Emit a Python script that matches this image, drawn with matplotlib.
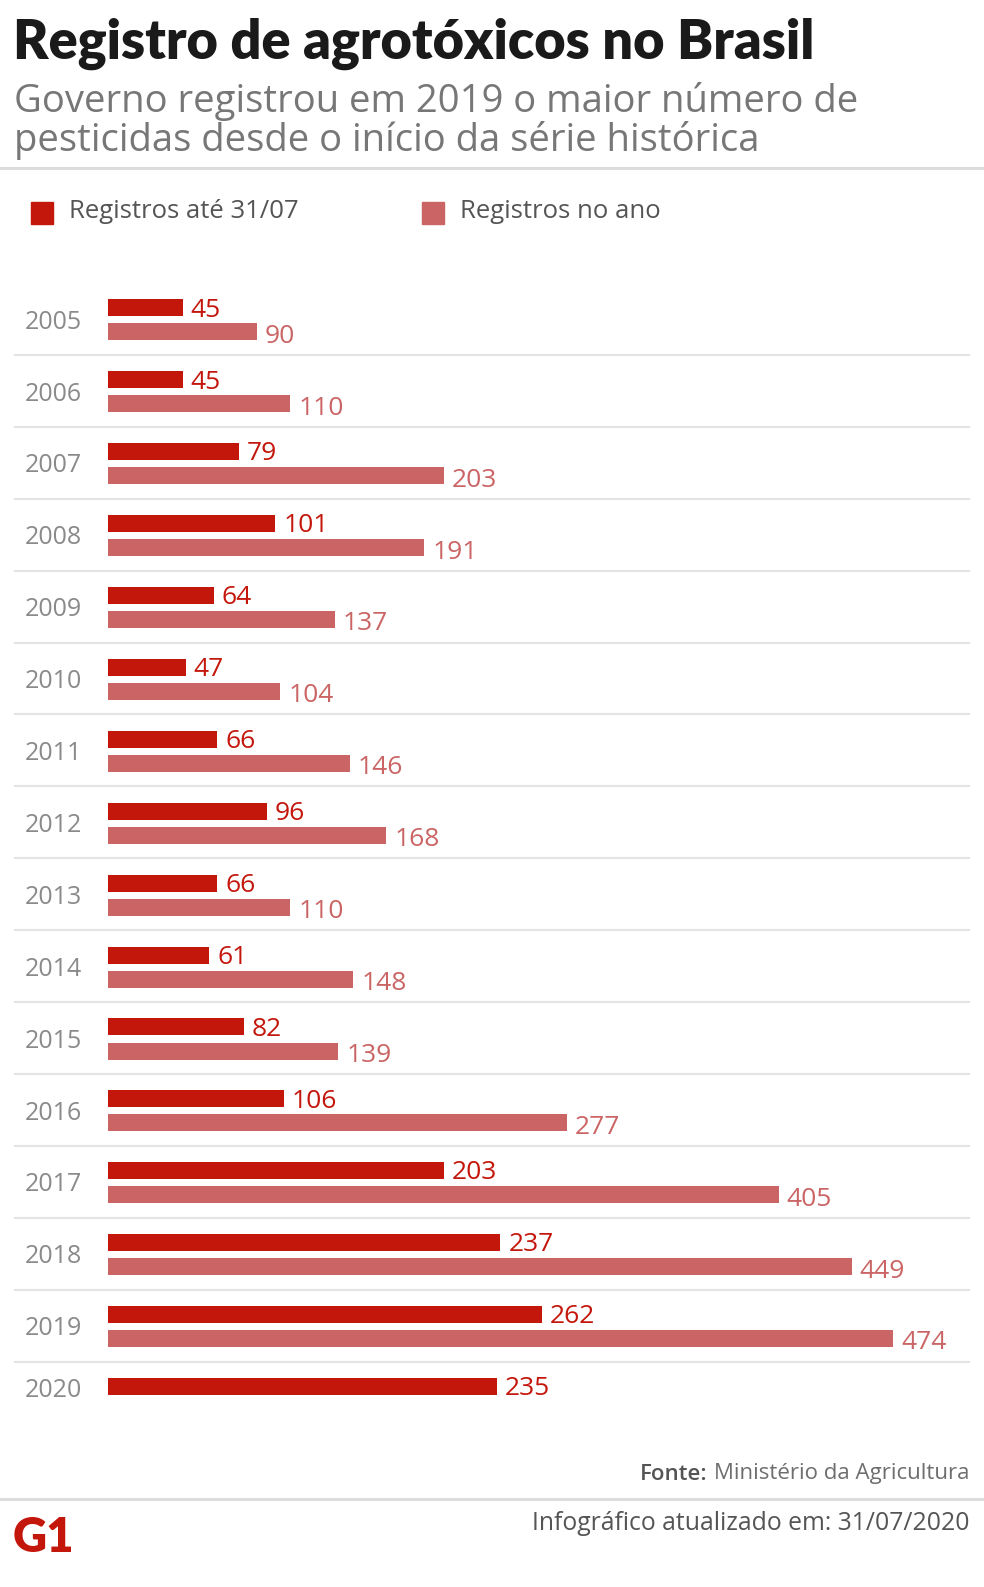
"""Registro de agrotóxicos no Brasil - G1 style horizontal bar chart."""

import matplotlib

matplotlib.use("Agg")
import matplotlib.pyplot as plt
import matplotlib.transforms as mtransforms

# --- data -------------------------------------------------------------
years = ["2005", "2006", "2007", "2008", "2009", "2010", "2011", "2012",
         "2013", "2014", "2015", "2016", "2017", "2018", "2019", "2020"]
ate_31_07 = [45, 45, 79, 101, 64, 47, 66, 96, 66, 61, 82, 106, 203, 237, 262, 235]
no_ano = [90, 110, 203, 191, 137, 104, 146, 168, 110, 148, 139, 277, 405, 449, 474, None]

legend_labels = ["Registros até 31/07", "Registros no ano"]
title = "Registro de agrotóxicos no Brasil"
subtitle = "Governo registrou em 2019 o maior número de\npesticidas desde o início da série histórica"
source_bold = "Fonte:"
source_text = "Ministério da Agricultura"
updated = "Infográfico atualizado em: 31/07/2020"

# --- style ------------------------------------------------------------
DARK = "#c4170c"
LIGHT = "#cb6565"
YEAR_GRAY = "#8a8a8a"
SEP = "#e4e4e4"
FONT = ["Open Sans", "DejaVu Sans"]

W, H = 984, 1587
fig = plt.figure(figsize=(W / 100, H / 100), dpi=100)
fig.patch.set_facecolor("white")


def fx(px):
    return px / W


def fy(py):
    return 1 - py / H


# header
fig.text(fx(13), fy(44), title, fontsize=39, fontweight="heavy", family=["Lato", "DejaVu Sans"],
         color="#1a1a1a", va="center", ha="left")
fig.text(fx(14), fy(121), subtitle, fontsize=27.5, family=FONT, color="#777777",
         va="center", ha="left", linespacing=1.0)
fig.add_artist(plt.Line2D([0, 1], [fy(168), fy(168)], color="#dddddd", lw=2.2))

# legend
for x0, lab, col in [(31, legend_labels[0], DARK), (422, legend_labels[1], LIGHT)]:
    fig.add_artist(plt.Rectangle((fx(x0), fy(224)), fx(22), 22 / H, color=col,
                                 transform=fig.transFigure))
    fig.text(fx(x0 + 38), fy(212), lab, fontsize=18.5, family=FONT, color="#555555",
             va="center", ha="left")

# chart axes: x in values, y in row units
scale = 1.656        # px per unit
pitch = 71.9         # px per row
row0 = 308           # px of first dark bar centre
x_left, x_right = 108, 960
y_top_d, y_bot_d = -0.6, 15.6
top_px = row0 + y_top_d * pitch
bot_px = row0 + y_bot_d * pitch
ax = fig.add_axes([fx(x_left), fy(bot_px), fx(x_right - x_left), (bot_px - top_px) / H])
ax.set_xlim(0, (x_right - x_left) / scale)
ax.set_ylim(y_bot_d, y_top_d)
ax.axis("off")

bar_h = 17 / pitch
off = 24 / pitch
lab_off = 8 / scale
ypos = list(range(len(years)))

ax.barh(ypos, ate_31_07, height=bar_h, color=DARK)
light_y = [i + off for i, v in zip(ypos, no_ano) if v is not None]
light_v = [v for v in no_ano if v is not None]
ax.barh(light_y, light_v, height=bar_h, color=LIGHT)

for i, v in zip(ypos, ate_31_07):
    ax.text(v + lab_off, i + 0.03, str(v), color=DARK, fontsize=19, family=FONT,
            va="center", ha="left")
for y, v in zip(light_y, light_v):
    ax.text(v + lab_off, y + 0.06, str(v), color=LIGHT, fontsize=19, family=FONT,
            va="center", ha="left")

# year labels and separators
blend = mtransforms.blended_transform_factory(fig.transFigure, ax.transData)
for i, yr in enumerate(years):
    yc = i + off / 2 + 0.03 if no_ano[i] is not None else i + 0.05
    ax.text(fx(25), yc, yr, transform=blend, color=YEAR_GRAY, fontsize=18,
            family=FONT, va="center", ha="left", clip_on=False)
    if i < len(years) - 1:
        ax.plot([fx(15), fx(969)], [i + 47 / pitch] * 2, transform=blend,
                color=SEP, lw=1.6, clip_on=False)

# footer
src = fig.text(fx(969), fy(1474), source_text, fontsize=16, family=FONT, color="#6e6e6e",
               va="center", ha="right")
fig.canvas.draw()
bb = src.get_window_extent()
fig.text(bb.x0 / W - fx(6), fy(1474), source_bold, fontsize=16, family=FONT,
         fontweight="semibold", color="#555555", va="center", ha="right")
fig.add_artist(plt.Line2D([0, 1], [fy(1499), fy(1499)], color="#dddddd", lw=2.2))
fig.text(fx(969), fy(1524), updated, fontsize=17.8, family=FONT, color="#555555",
         va="center", ha="right")
fig.text(fx(13), fy(1552), "G1", fontsize=34, fontweight="heavy",
         family=["Lato", "DejaVu Sans"], color=DARK, va="baseline", ha="left")

fig.savefig("out.png", dpi=100)
